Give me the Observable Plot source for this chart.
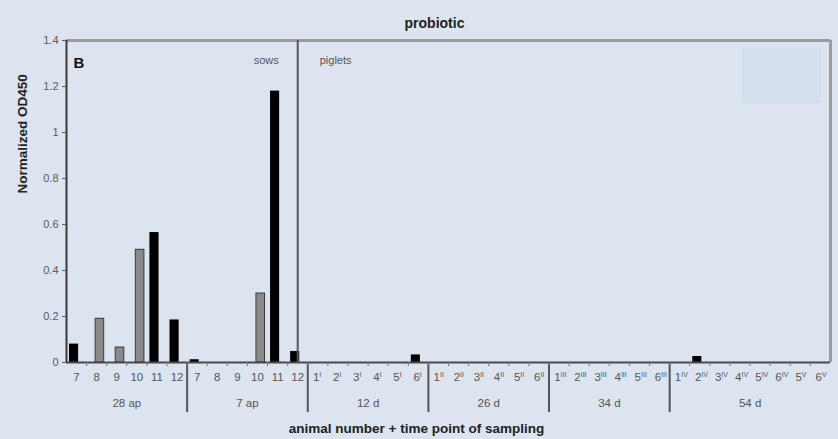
<!DOCTYPE html>
<html><head><meta charset="utf-8">
<script src="https://cdn.jsdelivr.net/npm/d3@7"></script>
<script src="https://cdn.jsdelivr.net/npm/@observablehq/plot@0.6"></script>
<style>
body{margin:0;background:#dce4ef;font-family:"Liberation Sans",Arial,sans-serif;}
#wrap{position:relative;width:838px;height:439px;overflow:hidden;background:#dce4ef;}
#legendbox{position:absolute;left:742px;top:48px;width:79px;height:55px;background:#d4dfee;}
#wrap svg{position:absolute;left:0;top:0;}
</style></head><body><div id="wrap"><div id="legendbox"></div></div>
<script>
// ---- data ----
const animalNumbers = ["7","8","9","10","11","12", "7","8","9","10","11","12",
  "1","2","3","4","5","6", "1","2","3","4","5","6", "1","2","3","4","5","6",
  "1","2","3","4","5","6","5","6"];
const superscripts = ["","","","","","", "","","","","","",
  "I","I","I","I","I","I", "II","II","II","II","II","II", "III","III","III","III","III","III",
  "IV","IV","IV","IV","IV","IV","V","V"];
const groupLabels = ["28 ap","7 ap","12 d","26 d","34 d","54 d"];
const groupSizes = [6,6,6,6,6,8];
const blackValues = [0.08,0,0,0,0.565,0.185, 0.012,0,0,0,1.18,0.048,
  0,0,0,0,0,0.033, 0,0,0,0,0,0, 0,0,0,0,0,0, 0,0.026,0,0,0,0,0,0];
const greyValues = [0,0.19,0.065,0.49,0,0, 0,0,0,0.30,0,0,
  0,0,0,0,0,0, 0,0,0,0,0,0, 0,0,0,0,0,0, 0,0,0,0,0,0,0,0];
const yTicks = [0,0.2,0.4,0.6,0.8,1,1.2,1.4];
const title = "probiotic";
const yLabel = "Normalized OD450";
const xLabel = "animal number + time point of sampling";

// ---- derived tables ----
const n = animalNumbers.length;
const cats = animalNumbers.map((a,i)=>({i, a, sup: superscripts[i], black: blackValues[i], grey: greyValues[i]}));
let acc = 0;
const groups = groupLabels.map((g,k)=>{const s=acc; acc+=groupSizes[k]; return {label:g, start:s, end:acc};});
const dividers = groups.slice(1).map(g=>g.start);
const labelFont = "Liberation Sans, Arial, sans-serif";

const chart = Plot.plot({
  width: 838, height: 439,
  marginLeft: 66, marginRight: 8, marginTop: 40, marginBottom: 77,
  style: {background: "transparent", fontFamily: labelFont},
  x: {domain: [0, n], axis: null},
  y: {domain: [0, 1.4], axis: null},
  marks: [
    // bars
    Plot.rectY(cats.filter(d=>d.grey>0), {x1: "i", x2: d=>d.i+1, y: "grey", fill: "#8a8a8a", stroke: "#3a3a3a", strokeWidth: 1, insetLeft: 9, insetRight: 2.5}),
    Plot.rectY(cats.filter(d=>d.black>0), {x1: "i", x2: d=>d.i+1, y: "black", fill: "#000", insetLeft: 3, insetRight: 8}),
    // frame
    Plot.ruleY([1.4], {stroke: "#9c9c9c", strokeWidth: 3}),
    Plot.ruleX([n], {stroke: "#9c9c9c", strokeWidth: 3}),
    Plot.ruleX([0], {stroke: "#3a3a3a", strokeWidth: 2}),
    Plot.ruleY([0], {stroke: "#4a4a4a", strokeWidth: 2}),
    // sows / piglets separator
    Plot.ruleX([11.5], {stroke: "#555", strokeWidth: 2}),
    // group dividers below axis
    Plot.ruleX(dividers, {x: d=>d, y1: 0, y2: 0, insetBottom: -50, stroke: "#555", strokeWidth: 2}),
    // y axis
    Plot.axisY({ticks: yTicks, tickFormat: d3.format("~g"), tickSize: 4, tickPadding: 4, fontSize: 11, color: "#5a5a5a", label: null}),
    // x ticks at band boundaries
    Plot.ruleX(d3.range(1, n), {x: d=>d, y1: 0, y2: 0, insetBottom: -4, stroke: "#777"}),
    // x tick labels
    Plot.text(cats.filter(d=>!d.sup), {x: d=>d.i+0.5, text: "a", frameAnchor: "bottom", dy: 18, fontSize: 11.5, fill: "#555"}),
    Plot.text(cats.filter(d=>d.sup), {x: d=>d.i+0.5, text: "a", frameAnchor: "bottom", dy: 18, dx: 1.5, textAnchor: "end", fontSize: 11.5, fill: "#555"}),
    Plot.text(cats.filter(d=>d.sup), {x: d=>d.i+0.5, text: "sup", frameAnchor: "bottom", dy: 14, dx: 1.5, textAnchor: "start", fontSize: 7, fill: "#555"}),
    // group labels
    Plot.text(groups, {x: d=>(d.start+d.end)/2, text: "label", frameAnchor: "bottom", dy: 44, fontSize: 11.5, fill: "#555"}),
    // annotations
    Plot.text(["B"], {frameAnchor: "top-left", dx: 7, dy: 17, fontSize: 15, fontWeight: "bold", fill: "#111"}),
    Plot.text(["sows"], {x: 11.5, y: 1.4, dx: -19, dy: 20, textAnchor: "end", fontSize: 11, fill: "#555"}),
    Plot.text(["piglets"], {x: 11.5, y: 1.4, dx: 22, dy: 20, textAnchor: "start", fontSize: 11, fill: "#555"}),
    // titles
    Plot.text([title], {frameAnchor: "top", dx: -14, dy: -22, fontSize: 14, fontWeight: "bold", fill: "#222"}),
    Plot.text([yLabel], {frameAnchor: "left", dx: -44, dy: -8, rotate: -90, fontSize: 13.5, fontWeight: "bold", fill: "#222"}),
    Plot.text([xLabel], {frameAnchor: "bottom", dx: -32, dy: 70, fontSize: 13.5, fontWeight: "bold", fill: "#222"})
  ]
});
document.getElementById("wrap").appendChild(chart);
</script></body></html>
